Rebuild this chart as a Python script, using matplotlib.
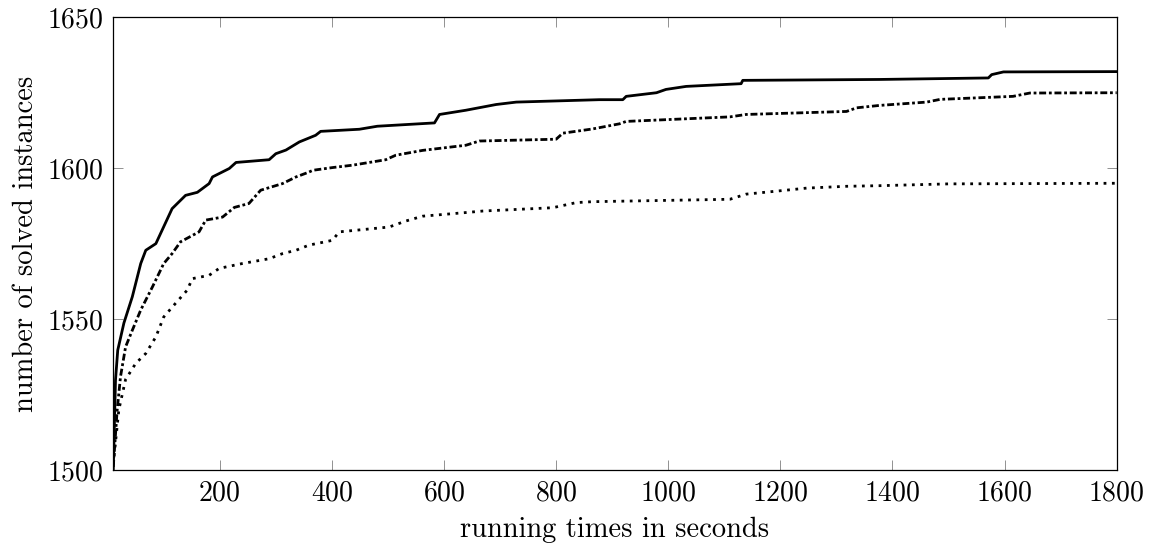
import matplotlib
matplotlib.use("Agg")
import matplotlib.pyplot as plt

plt.rcParams['font.family'] = ['cmr10', 'DejaVu Serif']
plt.rcParams['axes.formatter.use_mathtext'] = True

# solid curve
t_solid = [10, 14, 18, 29, 44, 59, 68, 86, 115, 139, 160, 181, 187, 217, 229, 288, 300,
           318, 342, 371, 380, 449, 481, 583, 592, 639, 693, 729, 877, 919, 925, 979,
           996, 1032, 1130, 1133, 1377, 1571, 1577, 1598, 1800]
n_solid = [1500, 1529.8, 1539.7, 1548.7, 1557.4, 1568.4, 1572.8, 1575, 1586.6, 1591, 1592,
           1594.9, 1597.1, 1599.9, 1601.9, 1602.8, 1604.8, 1606, 1608.7, 1610.9, 1612.2,
           1612.9, 1613.9, 1615, 1617.8, 1619.2, 1621.1, 1621.9, 1622.7, 1622.7, 1623.8,
           1625, 1626.1, 1627.1, 1628, 1629.1, 1629.4, 1629.9, 1631, 1631.9, 1632]

# dash-dotted curve
t_dashdot = [10, 17, 23, 32, 44, 59, 80, 100, 115, 130, 163, 175, 205, 226, 252, 273, 312,
             336, 359, 366, 401, 437, 496, 514, 562, 639, 663, 800, 812, 865, 913, 925,
             1110, 1139, 1318, 1336, 1377, 1461, 1485, 1615, 1645, 1800]
n_dashdot = [1501, 1519.9, 1531, 1540.8, 1546.3, 1553, 1560.7, 1568.4, 1571.7, 1575.6,
             1578.9, 1582.8, 1583.8, 1587, 1588.3, 1592.7, 1594.9, 1597.1, 1598.7, 1599.3,
             1600.2, 1601, 1602.8, 1604.3, 1605.9, 1607.6, 1609, 1609.6, 1611.6, 1613,
             1614.7, 1615.5, 1617, 1617.8, 1618.8, 1620, 1620.8, 1621.9, 1622.8, 1623.8,
             1624.9, 1625]

# dotted curve
t_dotted = [10, 20, 32, 50, 68, 86, 100, 121, 142, 151, 181, 199, 240, 288, 312, 336, 359,
            401, 413, 502, 532, 562, 639, 669, 794, 836, 865, 1110, 1139, 1199, 1247, 1318,
            1377, 1500, 1800]
n_dotted = [1502, 1520, 1530, 1535.3, 1538.6, 1544.1, 1550.7, 1555.2, 1559.6, 1563.4,
            1564.5, 1566.8, 1568.4, 1570, 1571.7, 1572.8, 1574.5, 1576.1, 1578.9, 1580.5,
            1582.5, 1584.1, 1585.3, 1585.8, 1586.9, 1588.6, 1588.9, 1589.7, 1591.4, 1592.5,
            1593.4, 1594, 1594.2, 1594.8, 1595]

fig = plt.figure(figsize=(11.51, 5.47), dpi=100)
ax = fig.add_axes([0.0984, 0.1408, 0.8718, 0.8276])

ax.plot(t_solid, n_solid, color='black', lw=2.0, solid_joinstyle='round')
ax.plot(t_dashdot, n_dashdot, color='black', lw=2.0, linestyle=(0, (2.5, 1, 1, 1)))
ax.plot(t_dotted, n_dotted, color='black', lw=2.0, linestyle=(0, (1, 2)))

ax.set_xlim(10, 1800)
ax.set_ylim(1500, 1650)
ax.set_xticks([200, 400, 600, 800, 1000, 1200, 1400, 1600, 1800])
ax.set_yticks([1500, 1550, 1600, 1650])

ax.tick_params(direction='in', length=7.5, width=0.6, color='gray',
               top=True, right=True, labelsize=20, pad=7)
for s in ax.spines.values():
    s.set_linewidth(0.9)

ax.set_xlabel('running times in seconds', fontsize=20.5, labelpad=8)
ax.set_ylabel('number of solved instances', fontsize=20.5, labelpad=6)

fig.savefig('out.png', dpi=100)
